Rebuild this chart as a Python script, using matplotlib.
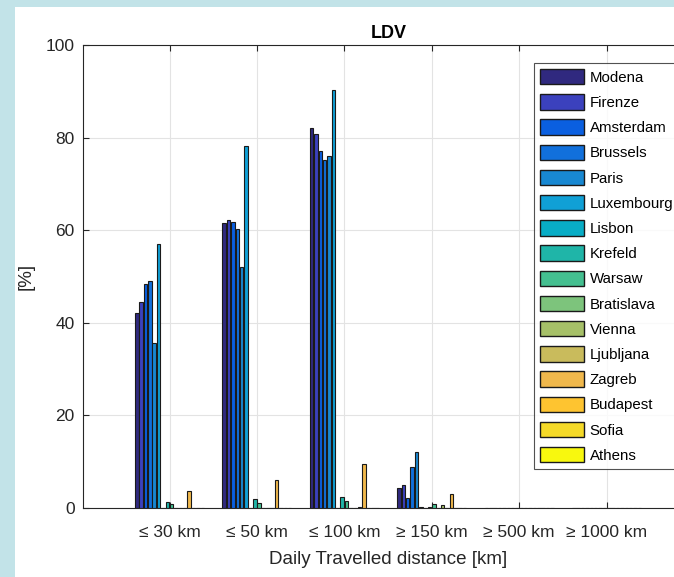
import numpy as np
import matplotlib.pyplot as plt
from matplotlib.patches import Rectangle

plt.rcParams['font.family'] = ['Liberation Sans', 'DejaVu Sans']

categories = ["≤ 30 km", "≤ 50 km", "≤ 100 km",
              "≥ 150 km", "≥ 500 km", "≥ 1000 km"]
cities = ["Modena", "Firenze", "Amsterdam", "Brussels", "Paris", "Luxembourg",
          "Lisbon", "Krefeld", "Warsaw", "Bratislava", "Vienna", "Ljubljana",
          "Zagreb", "Budapest", "Sofia", "Athens"]

modena     = [42.2, 61.6, 82.1, 4.3, 0, 0]
firenze    = [44.6, 62.3, 80.8, 4.9, 0, 0]
amsterdam  = [48.4, 61.8, 77.0, 2.2, 0, 0]
brussels   = [49.1, 60.3, 75.2, 8.9, 0, 0]
paris      = [35.6, 52.0, 76.1, 12.2, 0, 0]
luxembourg = [57.1, 78.1, 90.3, 0.3, 0, 0]
lisbon     = [0, 0, 0, 0, 0, 0]
krefeld    = [1.4, 1.9, 2.4, 0.3, 0, 0]
warsaw     = [0.8, 1.1, 1.6, 0.9, 0, 0]
bratislava = [0, 0, 0, 0, 0, 0]
vienna     = [0, 0, 0, 0.7, 0, 0]
ljubljana  = [0, 0, 0.3, 0, 0, 0]
zagreb     = [3.7, 6.0, 9.5, 3.0, 0, 0]
budapest   = [0, 0, 0, 0, 0, 0]
sofia      = [0, 0, 0, 0, 0, 0]
athens     = [0, 0, 0, 0, 0, 0]

series = [modena, firenze, amsterdam, brussels, paris, luxembourg, lisbon,
          krefeld, warsaw, bratislava, vienna, ljubljana, zagreb, budapest,
          sofia, athens]

# parula-like colours as they appear in the picture
colors = ["#30297f", "#3b41bd", "#0a5fe0", "#1170dc", "#1888d2", "#10a0d6",
          "#08adc6", "#1fb5a8", "#44bf90", "#7dc47c", "#a6c068", "#c9bb5c",
          "#f0b84c", "#fec430", "#f5da28", "#f8f80e"]

W, H = 674, 577
fig = plt.figure(figsize=(W / 100, H / 100), dpi=100, facecolor="white")
# light blue frame on the left and top
fig.patches.append(Rectangle((0, 0), 15 / W, 1, transform=fig.transFigure,
                             facecolor="#c2e3e8", edgecolor="none", zorder=-10))
fig.patches.append(Rectangle((0, 1 - 7 / H), 1, 7 / H, transform=fig.transFigure,
                             facecolor="#c2e3e8", edgecolor="none", zorder=-10))

ax = fig.add_axes([83 / W, 69 / H, 611 / W, 463 / H])
x = np.arange(1, len(categories) + 1)
n = len(series)
slot = 0.8 / n
for i, (vals, name, col) in enumerate(zip(series, cities, colors)):
    ax.bar(x + (i - (n - 1) / 2) * slot, vals, width=slot * 0.8, color=col,
           edgecolor="#1a1a1a", linewidth=0.8, label=name, zorder=3)

ax.set_xlim(0.01, 7.0)
ax.set_ylim(0, 100)
ax.set_xticks(x)
ax.set_xticklabels(categories)
ax.set_yticks(np.arange(0, 101, 20))
ax.grid(True, color="#e3e3e3", linewidth=0.8, zorder=0)
ax.set_axisbelow(True)
ax.tick_params(direction="in", top=True, right=True, length=4, width=0.8,
               colors="#262626", labelsize=12.5, labelcolor="#262626")
ax.tick_params(axis="x", pad=12)
ax.tick_params(axis="y", pad=6)
for s in ax.spines.values():
    s.set_color("#262626")
    s.set_linewidth(0.8)

ax.set_title("LDV", fontsize=13, fontweight="bold", color="black", pad=5)
ax.set_xlabel("Daily Travelled distance [km]", fontsize=13.5, color="#262626", labelpad=8)
ax.set_ylabel("[%]", fontsize=13.5, color="#262626", labelpad=8)

leg = ax.legend(loc="upper left", bbox_to_anchor=(534 / W, 1 - 63 / H),
                bbox_transform=fig.transFigure, fontsize=10.8, frameon=True,
                fancybox=False, borderaxespad=0, borderpad=0.4,
                handlelength=2.95, handleheight=1.2, labelspacing=0.63,
                handletextpad=0.35)
leg.get_frame().set_edgecolor("#262626")
leg.get_frame().set_linewidth(0.8)
for h in leg.legend_handles:
    h.set_edgecolor("#1a1a1a")
    h.set_linewidth(1.0)

fig.savefig("out.png", dpi=100, facecolor=fig.get_facecolor())
